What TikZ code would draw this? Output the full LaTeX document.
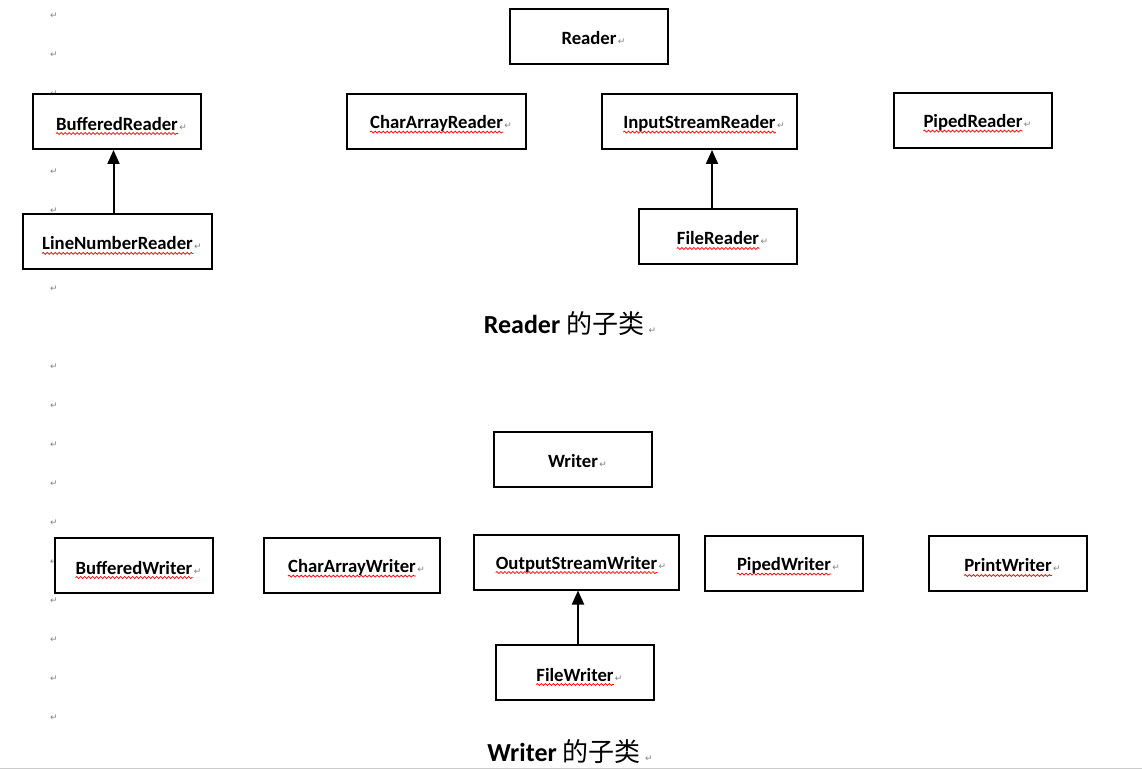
\documentclass[tikz,border=0pt]{standalone}
\usepackage{fontspec}
\setmainfont{Carlito}
\newfontfamily\cjk{Noto Sans CJK SC}
\newfontfamily\symfont{DejaVu Sans}
\usetikzlibrary{arrows.meta,decorations.pathmorphing}
% box, name, paragraph mark and red spelling wave
\newcommand\classbox[5][spl]{%
  \node[cls,minimum width=#4] (#2) at (#3) {};
  \node[lbl] (#2t) at ([yshift=-2pt]#2.center) {#5};
  \node[pmk,anchor=base west] (#2m) at ([xshift=1pt]#2t.base east) {↵};
  \draw[#1] ([yshift=-3.5pt]#2t.base west) -- ([yshift=-3.5pt]#2t.base east);
}
\begin{document}
\begin{tikzpicture}[x=1pt,y=-1pt,
  cls/.style={draw,line width=2pt,fill=white,minimum height=55pt,inner sep=0pt},
  lbl/.style={inner sep=0pt,font=\bfseries\fontsize{18.7}{18.7}\selectfont},
  spl/.style={red,line width=0.7pt,decorate,decoration={snake,segment length=4pt,amplitude=1pt}},
  nospl/.style={draw=none},
  inh/.style={line width=2pt,-{Triangle[width=12pt,length=14pt]}},
  pmk/.style={inner sep=0pt,font=\symfont\fontsize{9}{9}\selectfont,text=gray},
  ttl/.style={inner sep=0pt,font=\bfseries\fontsize{26}{26}\selectfont}]
\useasboundingbox (0,0) rectangle (1142,770);
\foreach \y in {16,55,94,172,211,289,367,406,...,718}
  \node[pmk] (m\y) at (54,\y) {↵};
% Reader
\classbox[nospl]{reader}{589,36.5}{158pt}{Reader}
\classbox{bufr}{117,121.5}{168pt}{BufferedReader}
\classbox{car}{436.5,121.5}{179pt}{CharArrayReader}
\classbox{isr}{699.5,121.5}{195pt}{InputStreamReader}
\classbox{pipr}{973,120.5}{158pt}{PipedReader}
\classbox{lnr}{117.5,241.5}{189pt}{LineNumberReader}
\classbox{filer}{718,236.5}{158pt}{FileReader}
\draw[inh] ([xshift=-4pt]lnr.north) -- ([xshift=-4pt]lnr.north |- bufr.south);
\draw[inh] ([xshift=-6pt]filer.north) -- ([xshift=-6pt]filer.north |- isr.south);
\node[ttl] (rtitle) at (564,324) {Reader {\cjk\mdseries 的子类}};
\node[pmk,anchor=base west] (rtitlem) at ([xshift=4pt]rtitle.base east) {↵};
% Writer
\classbox[nospl]{writer}{573,459.5}{158pt}{Writer}
\classbox{bufw}{134,565.5}{158pt}{BufferedWriter}
\classbox{caw}{352,565.5}{176pt}{CharArrayWriter}
\classbox{osw}{576.5,562}{205pt}{OutputStreamWriter}
\classbox{pipw}{784,563.5}{158pt}{PipedWriter}
\classbox{prw}{1008,563.5}{158pt}{PrintWriter}
\classbox{filew}{575,672.5}{158pt}{FileWriter}
\draw[inh] ([xshift=3pt]filew.north) -- ([xshift=3pt]filew.north |- osw.south);
\node[ttl] (wtitle) at (564,752) {Writer {\cjk\mdseries 的子类}};
\node[pmk,anchor=base west] (wtitlem) at ([xshift=4pt]wtitle.base east) {↵};
\draw[gray!40,line width=1pt] (0,768.5) -- (1142,768.5);
\end{tikzpicture}
\end{document}
